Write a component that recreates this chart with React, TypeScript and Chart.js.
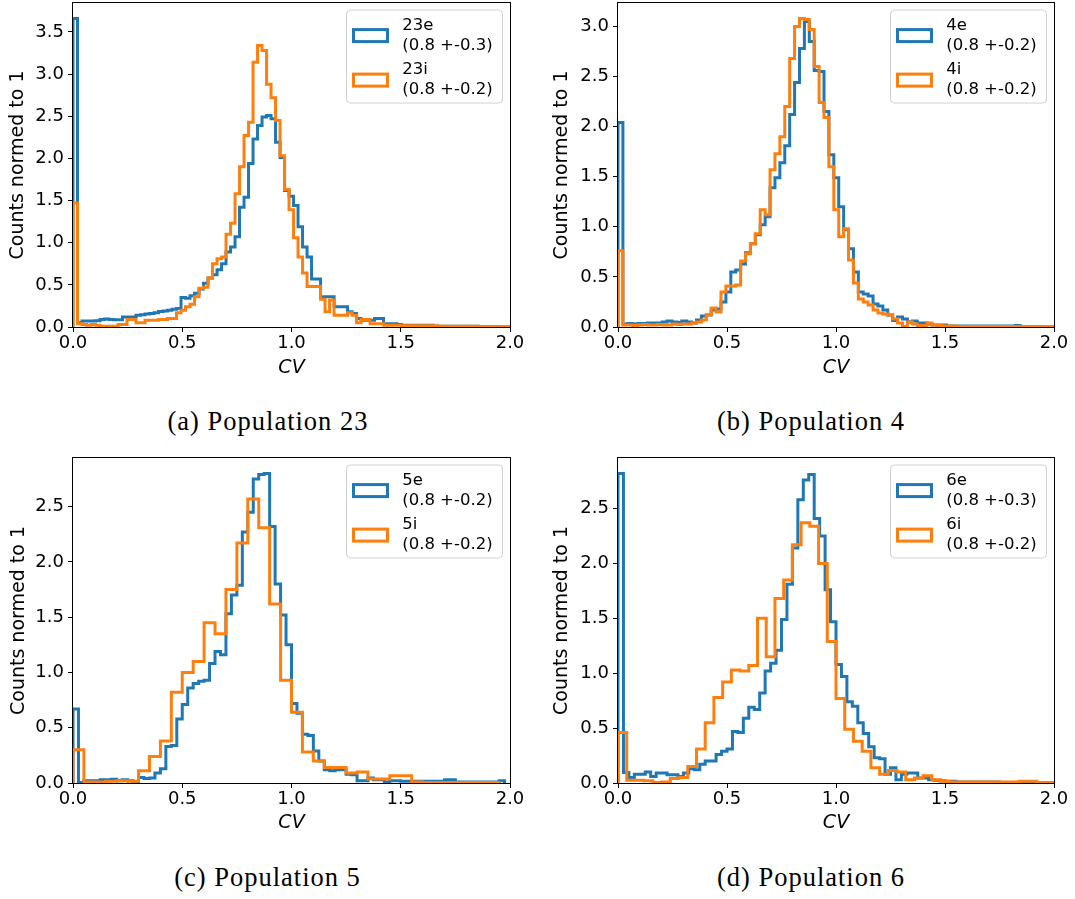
import React, { useEffect, useRef } from 'react';
import { Chart, registerables } from 'chart.js';

Chart.register(...registerables);

const BLUE = '#1f77b4';
const ORANGE = '#ff7f0e';

// ---- axes / text ----
const X_TICKS = [0, 0.5, 1.0, 1.5, 2.0];
const Y_TICKS_A = [0, 0.5, 1.0, 1.5, 2.0, 2.5, 3.0, 3.5];
const Y_TICKS_B = [0, 0.5, 1.0, 1.5, 2.0, 2.5, 3.0];
const Y_TICKS_C = [0, 0.5, 1.0, 1.5, 2.0, 2.5];
const Y_TICKS_D = [0, 0.5, 1.0, 1.5, 2.0, 2.5];
const X_TITLE = 'CV';
const Y_TITLE = 'Counts normed to 1';
const CAPTIONS = ['(a) Population 23', '(b) Population 4', '(c) Population 5', '(d) Population 6'];

// ---- legend labels ----
const NAMES_A = ['23e', '23i'];
const STATS_A = ['(0.8 +-0.3)', '(0.8 +-0.2)'];
const NAMES_B = ['4e', '4i'];
const STATS_B = ['(0.8 +-0.2)', '(0.8 +-0.2)'];
const NAMES_C = ['5e', '5i'];
const STATS_C = ['(0.8 +-0.2)', '(0.8 +-0.2)'];
const NAMES_D = ['6e', '6i'];
const STATS_D = ['(0.8 +-0.3)', '(0.8 +-0.2)'];

// ---- histogram bin widths (CV units) ----
const BIN_A_E = 0.0206;
const BIN_A_I = 0.0206;
const BIN_B_E = 0.0225;
const BIN_B_I = 0.0225;
const BIN_C_E = 0.025;
const BIN_C_I = 0.05;
const BIN_D_E = 0.025;
const BIN_D_I = 0.04;

// ---- histogram heights (bins start at CV = 0) ----
const POP23_E = [
  3.66, 0.05, 0.07, 0.07, 0.07, 0.075, 0.09, 0.095, 0.09, 0.085,
  0.085, 0.12, 0.12, 0.12, 0.14, 0.145, 0.155, 0.16, 0.17, 0.185,
  0.19, 0.2, 0.21, 0.22, 0.35, 0.34, 0.37, 0.40, 0.45, 0.52,
  0.58, 0.62, 0.68, 0.75, 0.89, 0.95, 1.07, 1.42, 1.54, 1.94,
  2.23, 2.39, 2.49, 2.51, 2.47, 2.19, 2.01, 1.62, 1.55, 1.44,
  1.19, 0.95, 0.83, 0.57, 0.57, 0.36, 0.36, 0.36, 0.24, 0.24,
  0.24, 0.18, 0.16, 0.10, 0.08, 0.08, 0.08, 0.10, 0.10, 0.04,
  0.04, 0.04, 0.03, 0.02, 0.02, 0.02, 0.02, 0.02, 0.02, 0.02,
  0.01, 0.01, 0.01, 0.01, 0.01, 0.01, 0.01, 0.01, 0.01, 0.01,
  0.005, 0.005, 0.005, 0.005, 0.005, 0.005, 0.005, 0.005, 0.005, 0.005,
];
const POP23_I = [
  1.47, 0.04, 0.03, 0.02, 0.03, 0.02, 0.01, 0.01, 0.01, 0.01,
  0.03, 0.03, 0.09, 0.09, 0.05, 0.05, 0.08, 0.08, 0.08, 0.09,
  0.09, 0.1, 0.1, 0.17, 0.2, 0.24, 0.27, 0.36, 0.46, 0.47,
  0.58, 0.75, 0.81, 0.83, 1.1, 1.23, 1.58, 1.9, 2.27, 2.43,
  3.14, 3.34, 3.28, 2.88, 2.72, 2.45, 2.03, 1.63, 1.39, 1.06,
  0.83, 0.64, 0.48, 0.48, 0.48, 0.33, 0.18, 0.32, 0.14, 0.14,
  0.14, 0.17, 0.14, 0.05, 0.09, 0.09, 0.04, 0.04, 0.04, 0.02,
  0.02, 0.02, 0.02, 0.015, 0.015, 0.015, 0.015, 0.015, 0.015, 0.015,
  0.015, 0.01, 0.01, 0.01, 0.01, 0.01, 0.01, 0.01, 0.01, 0.01,
  0.005, 0.005, 0.005, 0.005, 0.005, 0.005, 0.005, 0.005, 0.005, 0.005,
];
const POP4_E = [
  2.04, 0.03, 0.035, 0.03, 0.035, 0.035, 0.04, 0.04, 0.04, 0.05,
  0.06, 0.05, 0.045, 0.06, 0.05, 0.04, 0.07, 0.11, 0.12, 0.17,
  0.18, 0.25, 0.35, 0.55, 0.57, 0.63, 0.74, 0.83, 0.92, 1.02,
  1.1, 1.39, 1.49, 1.64, 1.81, 2.12, 2.44, 2.78, 3.05, 2.85,
  2.56, 2.55, 2.15, 1.72, 1.49, 1.2, 0.97, 0.78, 0.55, 0.35,
  0.33, 0.31, 0.23, 0.21, 0.17, 0.12, 0.066, 0.1, 0.08, 0.05,
  0.06, 0.04, 0.04, 0.03, 0.02, 0.02, 0.02, 0.01, 0.01, 0.01,
  0.01, 0.01, 0.01, 0.01, 0.01, 0.01, 0.01, 0.01, 0.01, 0.01,
  0.01, 0.015, 0.005, 0.005, 0.005, 0.005, 0.005, 0.005, 0.005, 0.005,
  0.005, 0.005, 0.005, 0.005, 0.005, 0.005, 0.005, 0.005, 0.005, 0.005,
];
const POP4_I = [
  0.76, 0.02, 0.02, 0.015, 0.02, 0.025, 0.02, 0.02, 0.025, 0.02,
  0.02, 0.03, 0.025, 0.03, 0.03, 0.04, 0.05, 0.07, 0.12, 0.19,
  0.15, 0.35, 0.41, 0.41, 0.42, 0.66, 0.73, 0.83, 0.93, 1.17,
  1.12, 1.57, 1.73, 1.9, 2.2, 2.68, 3.0, 3.08, 3.07, 2.97,
  2.6, 2.24, 2.09, 1.6, 1.17, 0.9, 0.98, 0.67, 0.44, 0.28,
  0.25, 0.22, 0.17, 0.14, 0.13, 0.12, 0.08, 0.04, 0.005, 0.05,
  0.03, 0.015, 0.015, 0.04, 0.02, 0.015, 0.01, 0.01, 0.01, 0.005,
  0.005, 0.005, 0.005, 0.005, 0.005, 0.005, 0.005, 0.005, 0.005, 0.005,
  0.005, 0.005, 0.005, 0.005, 0.005, 0.005, 0.005, 0.005, 0.005, 0.005,
  0.005, 0.005, 0.005, 0.005, 0.005, 0.005, 0.005, 0.005, 0.005, 0.005,
];
const POP5_E = [
  0.67, 0.005, 0.02, 0.02, 0.02, 0.03, 0.03, 0.035, 0.02, 0.03,
  0.02, 0.01, 0.05, 0.04, 0.045, 0.09, 0.13, 0.33, 0.34, 0.58,
  0.71, 0.86, 0.9, 0.92, 0.93, 1.08, 1.19, 1.16, 1.53, 1.70,
  1.79, 2.27, 2.45, 2.75, 2.79, 2.8, 2.32, 1.8, 1.52, 1.25,
  0.72, 0.63, 0.44, 0.43, 0.29, 0.2, 0.12, 0.11, 0.12, 0.12,
  0.08, 0.075, 0.02, 0.02, 0.045, 0.03, 0.03, 0.01, 0.02, 0.02,
  0.015, 0.015, 0.015, 0.015, 0.015, 0.015, 0.015, 0.015, 0.03, 0.03,
  0.01, 0.01, 0.01, 0.01, 0.01, 0.01, 0.01, 0.01, 0.02,
];
const POP5_I = [
  0.3, 0.01, 0.01, 0.015, 0.02, 0.015, 0.11, 0.24, 0.38, 0.82,
  1.0, 1.1, 1.45, 1.35, 1.75, 2.17, 2.57, 2.31, 1.62, 0.93,
  0.64, 0.28, 0.2, 0.14, 0.14, 0.09, 0.1, 0.036, 0.036, 0.066,
  0.066, 0.01, 0.005, 0.005, 0.005, 0.005, 0.005, 0.005, 0.005,
];
const POP6_E = [
  2.82, 0.095, 0.05, 0.08, 0.08, 0.1, 0.06, 0.09, 0.09, 0.075,
  0.075, 0.06, 0.09, 0.13, 0.12, 0.17, 0.2, 0.2, 0.26, 0.29,
  0.31, 0.47, 0.46, 0.59, 0.69, 0.67, 0.82, 1.02, 1.09, 1.21,
  1.49, 1.81, 2.14, 2.58, 2.76, 2.81, 2.41, 2.25, 1.76, 1.47,
  1.08, 0.97, 0.74, 0.70, 0.55, 0.45, 0.33, 0.23, 0.22, 0.08,
  0.14, 0.03, 0.08, 0.09, 0.09, 0.045, 0.045, 0.03, 0.025, 0.02,
  0.015, 0.015, 0.01, 0.01, 0.01, 0.01, 0.01, 0.01, 0.01, 0.01,
  0.005, 0.005, 0.005, 0.005, 0.005, 0.005, 0.005, 0.005, 0.005,
];
const POP6_I = [
  0.46, 0.024, 0.024, 0.02, 0.005, 0.01, 0.04, 0.05, 0.15, 0.31,
  0.55, 0.78, 0.92, 1.03, 1.02, 1.07, 1.5, 1.15, 1.68, 1.85,
  2.17, 2.37, 2.34, 2.0, 1.29, 0.77, 0.49, 0.38, 0.29, 0.14,
  0.08, 0.115, 0.1, 0.03, 0.045, 0.067, 0.03, 0.015, 0.01, 0.01,
  0.01, 0.01, 0.01, 0.01, 0.01, 0.01, 0.015, 0.015, 0.005, 0.005,
];

type Series = { name: string; stat: string; color: string; values: number[]; bin: number };
type Rect = { left: number; top: number; right: number; bottom: number };
type PanelSpec = {
  canvas: { left: number; top: number; w: number; h: number };
  plot: Rect;
  yTicks: number[];
  series: Series[];
  yTitlePad: number;
  caption: string;
  captionX: number;
  captionBaseline: number;
};

const PANELS: PanelSpec[] = [
  {
    canvas: { left: 0, top: 0, w: 540, h: 390 },
    plot: { left: 73, top: 3, right: 510, bottom: 327 },
    yTicks: Y_TICKS_A,
    series: [
      { name: NAMES_A[0], stat: STATS_A[0], color: BLUE, values: POP23_E, bin: BIN_A_E },
      { name: NAMES_A[1], stat: STATS_A[1], color: ORANGE, values: POP23_I, bin: BIN_A_I },
    ],
    yTitlePad: 7,
    caption: CAPTIONS[0],
    captionX: 268,
    captionBaseline: 430.5,
  },
  {
    canvas: { left: 545, top: 0, w: 530, h: 390 },
    plot: { left: 73, top: 3, right: 509, bottom: 327 },
    yTicks: Y_TICKS_B,
    series: [
      { name: NAMES_B[0], stat: STATS_B[0], color: BLUE, values: POP4_E, bin: BIN_B_E },
      { name: NAMES_B[1], stat: STATS_B[1], color: ORANGE, values: POP4_I, bin: BIN_B_I },
    ],
    yTitlePad: 5.5,
    caption: CAPTIONS[1],
    captionX: 811,
    captionBaseline: 430.5,
  },
  {
    canvas: { left: 0, top: 455, w: 540, h: 390 },
    plot: { left: 73, top: 3, right: 510, bottom: 328 },
    yTicks: Y_TICKS_C,
    series: [
      { name: NAMES_C[0], stat: STATS_C[0], color: BLUE, values: POP5_E, bin: BIN_C_E },
      { name: NAMES_C[1], stat: STATS_C[1], color: ORANGE, values: POP5_I, bin: BIN_C_I },
    ],
    yTitlePad: 7.5,
    caption: CAPTIONS[2],
    captionX: 267.5,
    captionBaseline: 886.5,
  },
  {
    canvas: { left: 545, top: 455, w: 530, h: 390 },
    plot: { left: 73, top: 3, right: 509, bottom: 328 },
    yTicks: Y_TICKS_D,
    series: [
      { name: NAMES_D[0], stat: STATS_D[0], color: BLUE, values: POP6_E, bin: BIN_D_E },
      { name: NAMES_D[1], stat: STATS_D[1], color: ORANGE, values: POP6_I, bin: BIN_D_I },
    ],
    yTitlePad: 5.5,
    caption: CAPTIONS[3],
    captionX: 811,
    captionBaseline: 886.5,
  },
];

// outline of a step histogram: up at the first edge, across each bin, down at the last edge
function stepPoints(values: number[], bin: number) {
  const pts: { x: number; y: number }[] = [{ x: 0, y: 0 }];
  values.forEach((v, i) => pts.push({ x: i * bin, y: v }));
  pts.push({ x: values.length * bin, y: 0 });
  return pts;
}

const TICK_FONT = { family: 'DejaVu Sans', size: 18 };
const TITLE_FONT = { family: 'DejaVu Sans', size: 19 };
const LINE_W = 3;

const framePlugin = {
  id: 'frame',
  afterDatasetsDraw(chart: any) {
    const { ctx, chartArea: a } = chart;
    ctx.save();
    ctx.strokeStyle = '#000';
    ctx.lineWidth = 1;
    const l = Math.round(a.left) - 0.5;
    const t = Math.round(a.top) - 0.5;
    const r = Math.round(a.right) + 0.5;
    const b = Math.round(a.bottom) + 0.5;
    ctx.strokeRect(l, t, r - l, b - t);
    ctx.restore();
  },
};

const legendPlugin = {
  id: 'stepLegend',
  afterDraw(chart: any, _args: any, opts: any) {
    const entries: Series[] = opts.entries || [];
    const { ctx, chartArea: a } = chart;
    const R = a.right;
    const T = a.top;
    const bx = R - 163.5;
    const by = T + 7;
    const bw = 156;
    const bh = 93;
    const rad = 4;
    ctx.save();
    ctx.beginPath();
    ctx.moveTo(bx + rad, by);
    ctx.lineTo(bx + bw - rad, by);
    ctx.arcTo(bx + bw, by, bx + bw, by + rad, rad);
    ctx.lineTo(bx + bw, by + bh - rad);
    ctx.arcTo(bx + bw, by + bh, bx + bw - rad, by + bh, rad);
    ctx.lineTo(bx + rad, by + bh);
    ctx.arcTo(bx, by + bh, bx, by + bh - rad, rad);
    ctx.lineTo(bx, by + rad);
    ctx.arcTo(bx, by, bx + rad, by, rad);
    ctx.closePath();
    ctx.fillStyle = 'rgba(255,255,255,0.8)';
    ctx.fill();
    ctx.strokeStyle = '#d0d0d0';
    ctx.lineWidth = 1;
    ctx.stroke();

    entries.forEach((e, i) => {
      const cy = T + 32.6 + i * 44.5;
      ctx.strokeStyle = e.color;
      ctx.lineWidth = LINE_W;
      ctx.lineJoin = 'miter';
      ctx.strokeRect(R - 156.5, cy - 6, 34, 12);
      ctx.fillStyle = '#000';
      ctx.font = '16.5px "DejaVu Sans"';
      ctx.textAlign = 'left';
      ctx.textBaseline = 'middle';
      ctx.fillText(e.name, R - 107.8, cy - 10.1);
      ctx.fillText(e.stat, R - 107.8, cy + 10.1);
    });
    ctx.restore();
  },
};

function Panel({ spec }: { spec: PanelSpec }) {
  const ref = useRef<HTMLCanvasElement | null>(null);

  useEffect(() => {
    if (!ref.current) return;
    const { canvas, plot, series } = spec;
    const allValues = series.flatMap((s) => s.values);
    const yMax = Math.max(...allValues) * 1.05;

    const chart = new Chart(ref.current, {
      type: 'line',
      data: {
        datasets: series.map((s, i) => ({
          label: s.name,
          data: stepPoints(s.values, s.bin),
          borderColor: s.color,
          backgroundColor: 'rgba(0,0,0,0)',
          borderWidth: LINE_W,
          pointRadius: 0,
          pointHoverRadius: 0,
          stepped: true,
          fill: false,
          tension: 0,
          clip: 0,
          order: series.length - 1 - i,
          borderJoinStyle: 'miter',
          borderCapStyle: 'butt',
        })),
      },
      options: {
        animation: false,
        responsive: false,
        maintainAspectRatio: false,
        devicePixelRatio: 1,
        events: [],
        layout: {
          padding: { left: 0, top: plot.top, right: canvas.w - plot.right, bottom: 0 },
        },
        plugins: {
          legend: { display: false },
          tooltip: { enabled: false },
          stepLegend: { entries: series },
        } as any,
        scales: {
          x: {
            type: 'linear',
            min: 0,
            max: 2,
            afterBuildTicks: (s: any) => {
              s.ticks = X_TICKS.map((v) => ({ value: v }));
            },
            afterFit: (s: any) => {
              s.height = canvas.h - plot.bottom;
              s.paddingLeft = 0;
              s.paddingRight = 0;
            },
            ticks: {
              callback: (v: any) => Number(v).toFixed(1),
              color: '#000',
              font: TICK_FONT,
              padding: 1,
              maxRotation: 0,
              autoSkip: false,
            },
            grid: { display: true, drawOnChartArea: false, drawTicks: true, tickLength: 5, color: '#000', lineWidth: 1 },
            border: { display: false },
            title: {
              display: true,
              text: X_TITLE,
              color: '#000',
              font: { ...TITLE_FONT, style: 'italic' },
              padding: { top: 0, bottom: 10.5 },
            },
          },
          y: {
            type: 'linear',
            min: 0,
            max: yMax,
            afterBuildTicks: (s: any) => {
              s.ticks = spec.yTicks.map((v) => ({ value: v }));
            },
            afterFit: (s: any) => {
              s.width = plot.left;
              s.paddingTop = 0;
              s.paddingBottom = 0;
            },
            ticks: {
              callback: (v: any) => Number(v).toFixed(1),
              color: '#000',
              font: TICK_FONT,
              padding: 4,
              autoSkip: false,
            },
            grid: { display: true, drawOnChartArea: false, drawTicks: true, tickLength: 5, color: '#000', lineWidth: 1 },
            border: { display: false },
            title: {
              display: true,
              text: Y_TITLE,
              color: '#000',
              font: TITLE_FONT,
              padding: { top: spec.yTitlePad, bottom: 0 },
            },
          },
        },
      } as any,
      plugins: [framePlugin, legendPlugin],
    });
    return () => chart.destroy();
  }, [spec]);

  const fs = 26.5;
  return (
    <>
      <canvas
        ref={ref}
        width={spec.canvas.w}
        height={spec.canvas.h}
        style={{
          position: 'absolute',
          left: spec.canvas.left,
          top: spec.canvas.top,
          width: spec.canvas.w,
          height: spec.canvas.h,
          display: 'block',
        }}
      />
      <div
        style={{
          position: 'absolute',
          left: spec.captionX - 250,
          width: 500,
          top: spec.captionBaseline - 0.8375 * fs,
          textAlign: 'center',
          fontFamily: '"Liberation Serif", serif',
          fontSize: fs,
          lineHeight: 1,
          letterSpacing: '1px',
          color: '#000',
          whiteSpace: 'nowrap',
        }}
      >
        {spec.caption}
      </div>
    </>
  );
}

export default function App() {
  return (
    <div
      style={{
        position: 'absolute',
        left: 0,
        top: 0,
        width: 1075,
        height: 899,
        background: '#fff',
        overflow: 'hidden',
      }}
    >
      {PANELS.map((p, i) => (
        <Panel key={i} spec={p} />
      ))}
    </div>
  );
}
